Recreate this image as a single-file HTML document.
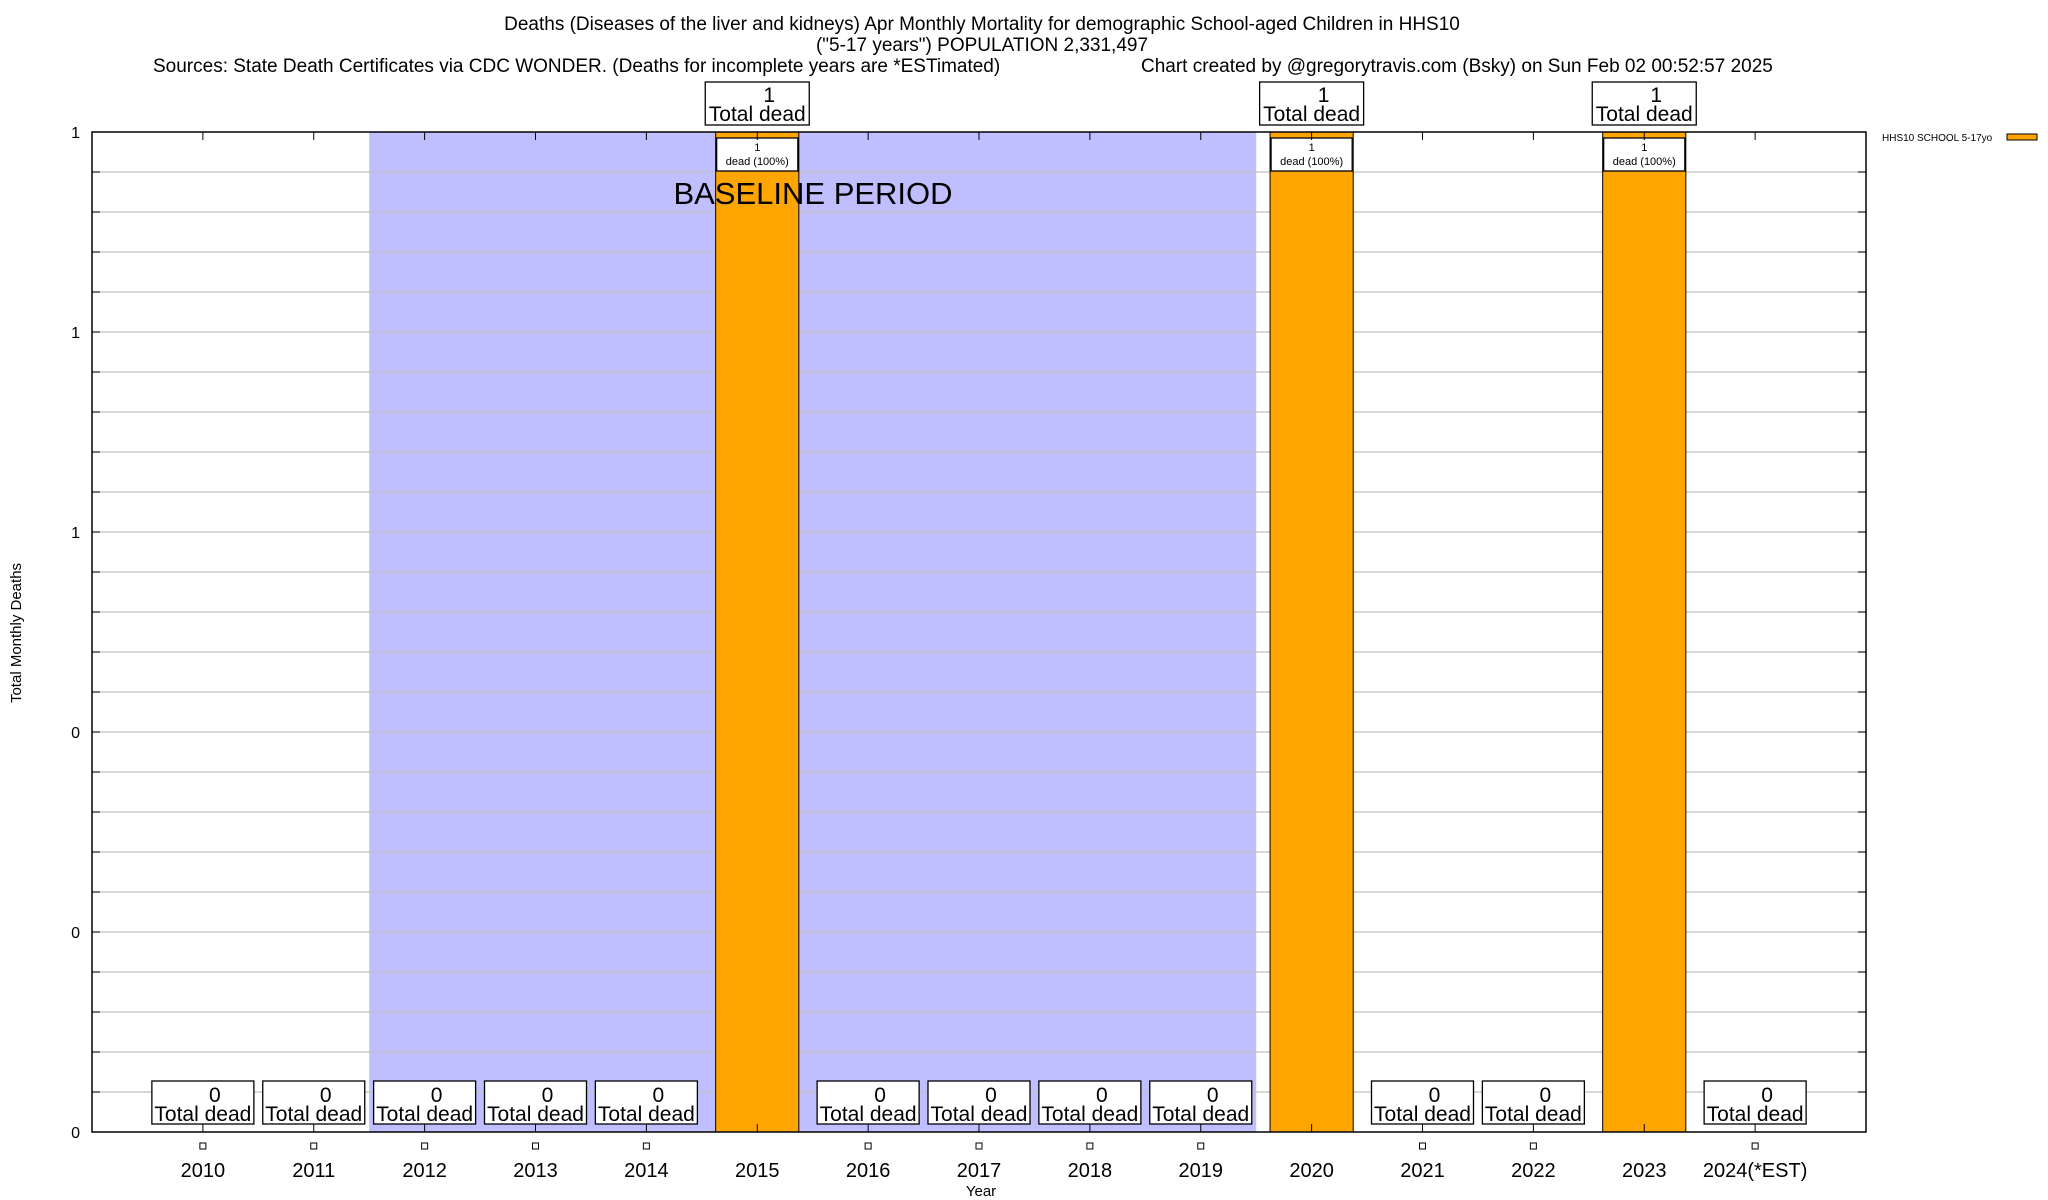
<!DOCTYPE html>
<html><head><meta charset="utf-8"><style>
html,body{margin:0;padding:0;background:#fff}
svg{display:block;font-family:"Liberation Sans",sans-serif}
</style></head><body>
<svg id="chart" width="2048" height="1200" viewBox="0 0 2048 1200" xmlns="http://www.w3.org/2000/svg">
<g font-size="19" text-anchor="middle">
<text x="982" y="30">Deaths (Diseases of the liver and kidneys) Apr Monthly Mortality for demographic School-aged Children in HHS10</text>
<text x="982" y="51">("5-17 years") POPULATION 2,331,497</text>
<text x="153" y="72" text-anchor="start">Sources: State Death Certificates via CDC WONDER. (Deaths for incomplete years are *ESTimated)</text>
<text x="1141" y="72" text-anchor="start">Chart created by @gregorytravis.com (Bsky) on Sun Feb 02 00:52:57 2025</text>
</g>
<g id="plot"></g>
</svg>
<script>
const years = ["2010","2011","2012","2013","2014","2015","2016","2017","2018","2019","2020","2021","2022","2023","2024(*EST)"];
const deaths = [0,0,0,0,0,1,0,0,0,0,1,0,0,1,0];
const yTickValues = [0,0.2,0.4,0.6,0.8,1];
const yTickLabels = ["0","0","0","1","1","1"];
const baselineStart = 1.5, baselineEnd = 9.5;

const L=92,R=1866,T=132,B=1132;
const slot=(R-L)/16;
const x=i=>L+slot*(i+1);
const y=v=>B-(B-T)*v;
const NS="http://www.w3.org/2000/svg";
const g=document.getElementById('plot');
function el(tag,attrs,parent){const e=document.createElementNS(NS,tag);for(const k in attrs)e.setAttribute(k,attrs[k]);(parent||g).appendChild(e);return e;}
function txt(s,attrs,parent){const e=el('text',attrs,parent);e.textContent=s;return e;}

let band=el('rect',{x:x(baselineStart),y:T,width:x(baselineEnd)-x(baselineStart),height:B-T,fill:'#bfbfff'});


for(let k=1;k<25;k++){const v=k/25;
 let gl=el('line',{x1:L,x2:R,y1:y(v),y2:y(v),stroke:'#c0c0c0','stroke-width':1.3});
 
 
 el('line',{x1:R-8,x2:R,y1:y(v),y2:y(v),stroke:'#000'});
 el('line',{x1:L,x2:L+8,y1:y(v),y2:y(v),stroke:'#000'});
}
const bw=slot*0.75;
deaths.forEach((d,i)=>{
 const cx=x(i);
 if(d>0){
  let b=el('rect',{x:cx-bw/2,y:y(d),width:bw,height:B-y(d),fill:'#ffa500',stroke:'#000','stroke-width':1});
  
  
  let ib=el('rect',{x:cx-bw/2+1,y:y(d)+6,width:bw-2,height:33,fill:'#fff',stroke:'#000','stroke-width':1.3});
  
  
  txt(String(d),{x:cx,y:y(d)+19,'font-size':11,'text-anchor':'middle'});
  txt('dead (100%)',{x:cx,y:y(d)+33,'font-size':11,'text-anchor':'middle'});
  let tb=el('rect',{x:cx-52,y:y(d)-50,width:104,height:43,fill:'#fff',stroke:'#000','stroke-width':1.3});
  
  
  txt(String(d),{x:cx+12,y:y(d)-30,'font-size':21,'text-anchor':'middle'});
  txt('Total dead',{x:cx,y:y(d)-11,'font-size':21,'text-anchor':'middle'});
 } else {
  let tb=el('rect',{x:cx-51,y:B-51,width:102,height:43,fill:'#fff',stroke:'#000','stroke-width':1.3});
  
  
  txt(String(d),{x:cx+12,y:B-30,'font-size':21,'text-anchor':'middle'});
  txt('Total dead',{x:cx,y:B-11,'font-size':21,'text-anchor':'middle'});
  el('rect',{x:cx-3,y:B+11,width:6,height:6,fill:'#fff',stroke:'#000','stroke-width':1});
 }
 el('line',{x1:cx,x2:cx,y1:T,y2:T+8,stroke:'#000'});
 el('line',{x1:cx,x2:cx,y1:B,y2:B-8,stroke:'#000'});
 let yl=txt(years[i],{x:cx,y:1177,'font-size':20,'text-anchor':'middle'});
 
 
});
let bt=txt('BASELINE PERIOD',{x:813,y:204,'font-size':31,'text-anchor':'middle'});


let fr=el('rect',{x:L,y:T,width:R-L,height:B-T,fill:'none',stroke:'#000','stroke-width':1.5});


yTickValues.forEach((v,k)=>{
 let t=txt(yTickLabels[k],{x:80,y:y(v)+6,'font-size':16,'text-anchor':'end'});
 
 
});
let xt=txt('Year',{x:981,y:1196,'font-size':15,'text-anchor':'middle'});


let yt=txt('Total Monthly Deaths',{x:0,y:0,'font-size':15,'text-anchor':'middle',transform:'translate(21,633) rotate(-90)'});


let lg=el('g',{});


txt('HHS10 SCHOOL 5-17yo',{x:1882,y:141,'font-size':10},lg);
el('rect',{x:2007,y:134,width:30,height:6,fill:'#ffa500',stroke:'#000','stroke-width':1},lg);
</script>
</body></html>
